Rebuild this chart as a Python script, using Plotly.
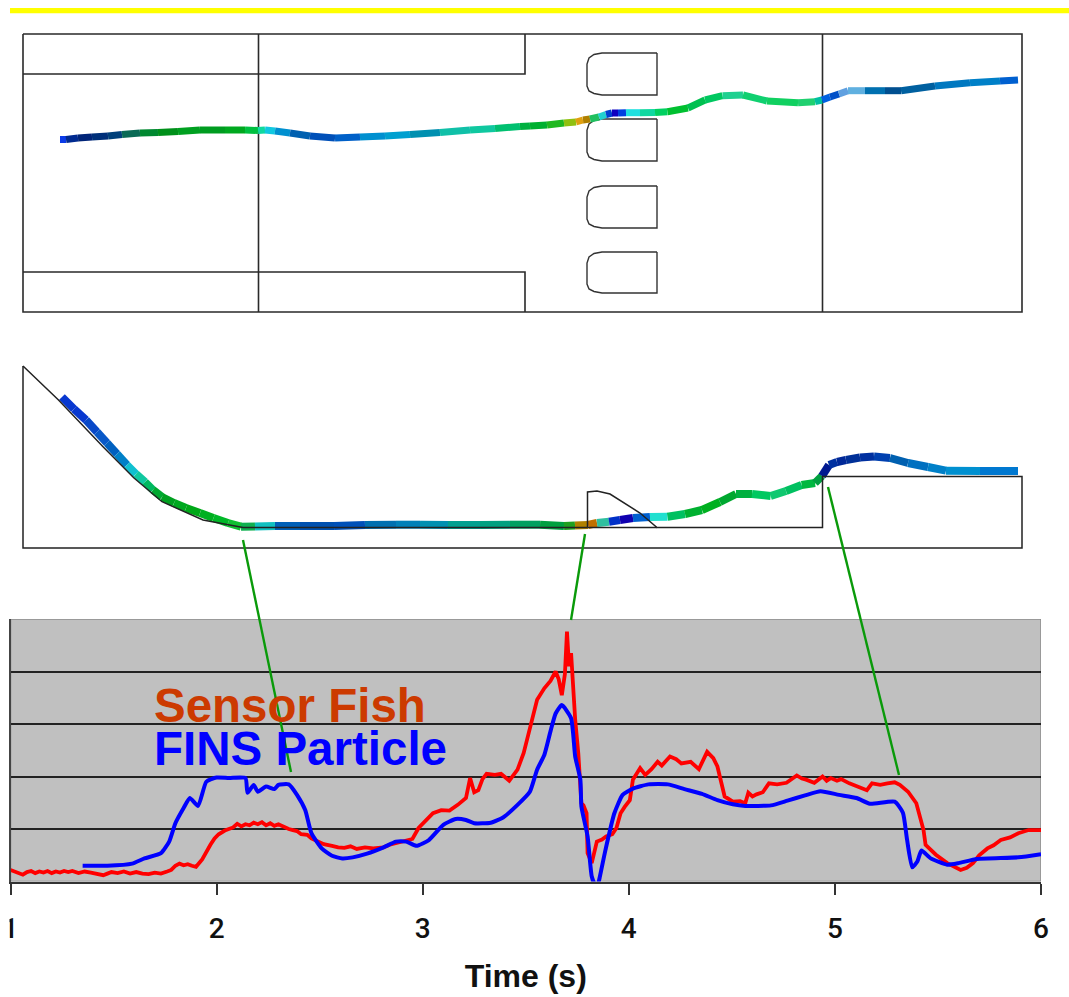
import plotly.graph_objects as go

W, H = 1069, 997

# ---------- time history chart ----------
tick_values = [1, 2, 3, 4, 5, 6]
tick_labels = ["1", "2", "3", "4", "5", "6"]
grid_values = [0, 1, 2, 3, 4, 5]
sensor_t = [1.00,1.02,1.04,1.06,1.08,1.10,1.12,1.14,1.16,1.18,1.20,1.22,1.24,1.26,1.28,1.30,1.33,1.36,1.39,1.42,1.45,1.47,1.49,1.52,1.55,1.58,1.61,1.64,1.67,1.70,1.73,1.76,1.78,1.80,1.82,1.84,1.86,1.88,1.90,
            1.93,1.95,1.97,1.99,2.01,2.04,2.06,2.08,2.10,2.12,2.14,2.16,2.18,2.20,2.22,2.24,2.26,2.28,2.30,2.33,2.35,2.37,2.39,2.41,2.44,2.46,2.49,2.52,2.56,2.59,2.62,2.65,2.68,2.72,2.76,2.81,2.84,2.87,2.91,2.95,
            2.98,3.01,3.05,3.09,3.13,3.17,3.21,3.23,3.25,3.27,3.29,3.31,3.35,3.38,3.42,3.46,3.49,3.51,3.53,3.555,3.59,3.62,3.645,3.66,3.675,3.69,3.70,3.71,3.72,3.74,3.755,3.77,3.78,3.795,
            3.80,3.82,3.845,3.87,3.89,3.92,3.94,3.96,3.98,4.005,4.02,4.04,4.055,4.08,4.11,4.14,4.16,4.20,4.23,4.255,4.28,4.30,4.34,4.36,4.38,4.41,4.43,4.465,4.505,4.54,4.565,4.58,
            4.60,4.62,4.65,4.68,4.72,4.765,4.79,4.815,4.84,4.86,4.90,4.92,4.94,4.96,4.98,5.01,5.03,5.07,5.105,5.13,5.155,5.18,5.22,5.255,5.29,5.315,5.355,5.395,5.43,5.44,5.49,5.545,5.58,5.61,5.64,5.67,5.70,5.74,5.77,5.805,5.85,5.89,5.94,6.00]
sensor_v = [.22,.19,.17,.13,.18,.20,.16,.19,.17,.20,.16,.19,.17,.20,.18,.20,.16,.19,.17,.15,.12,.15,.18,.16,.19,.15,.18,.15,.14,.17,.15,.19,.22,.30,.34,.31,.33,.30,.28,
            .42,.57,.70,.82,.90,.97,1.00,1.03,1.10,1.05,1.09,1.07,1.12,1.09,1.13,1.07,1.11,1.06,1.09,1.03,1.00,.98,.96,.90,.89,.82,.76,.71,.68,.65,.64,.67,.62,.65,.63,.65,.70,.73,.76,.81,
            1.02,1.15,1.30,1.36,1.35,1.46,1.59,1.97,1.70,1.74,1.95,2.05,2.03,2.05,1.92,2.13,2.45,2.76,3.10,3.46,3.68,3.82,4.00,3.85,3.55,3.95,4.76,4.10,4.35,3.08,2.44,1.49,1.45,1.30,
            .54,.35,.76,.80,.86,.90,1.02,1.30,1.42,1.55,1.94,2.05,2.16,2.03,2.14,2.28,2.21,2.38,2.33,2.25,2.27,2.28,2.14,2.30,2.47,2.35,2.19,1.62,1.52,1.53,1.49,1.69,
            1.62,1.66,1.70,1.87,1.85,1.88,1.94,2.02,1.96,1.94,1.88,1.95,2.00,1.92,1.97,1.92,1.95,1.87,1.81,1.77,1.74,1.87,1.84,1.87,1.89,1.84,1.71,1.49,.98,.70,.51,.35,.27,.22,.26,.35,.50,.63,.69,.79,.84,.92,.98,.98]
fins_t = [1.35,1.47,1.59,1.65,1.73,1.77,1.80,1.84,1.87,1.91,1.95,2.00,2.06,2.14,2.15,2.18,2.20,2.24,2.28,2.30,2.35,2.39,2.43,2.46,2.51,2.56,2.61,2.66,2.73,2.81,2.87,2.92,2.97,
          3.03,3.10,3.16,3.21,3.25,3.33,3.39,3.46,3.52,3.555,3.59,3.62,3.645,3.675,3.72,3.74,3.765,3.77,3.80,3.82,3.835,3.85,3.86,3.885,3.93,3.97,4.02,4.095,4.19,4.27,4.355,4.43,4.505,4.565,
          4.69,4.77,4.855,4.93,5.02,5.105,5.17,5.29,5.33,5.35,5.375,5.40,5.42,5.465,5.545,5.60,5.69,5.89,6.00]
fins_v = [.30,.30,.34,.44,.54,.76,1.11,1.40,1.59,1.44,1.90,1.98,1.97,1.97,1.69,1.84,1.71,1.81,1.76,1.84,1.85,1.65,1.36,.92,.63,.49,.44,.46,.53,.65,.76,.76,.68,
          .79,1.08,1.19,1.17,1.11,1.12,1.22,1.46,1.71,2.13,2.41,2.86,3.20,3.36,3.11,2.38,1.94,1.43,.86,.10,-.05,-.05,.10,.57,1.30,1.65,1.77,1.85,1.85,1.76,1.67,1.55,1.47,1.44,
          1.45,1.54,1.64,1.72,1.65,1.59,1.48,1.52,1.31,.80,.27,.38,.59,.44,.32,.35,.43,.46,.52]
sensor_label = "Sensor Fish"
fins_label = "FINS Particle"
x_title = "Time (s)"

# ---------- plan view (drawing units) ----------
plan_walls_x = [23,1022,1022,23,23,None,23,525,525,None,23,525,525,None,258.5,258.5,None,822.5,822.5]
plan_walls_y = [34,34,312,312,34,None,74,74,34,None,272,272,312,None,34,312,None,34,312]
pier_tops = [53, 119, 186, 252]
pier_bottoms = [95, 161, 228, 293]
plan_x = [60,66,78,92,108,122,140,158,178,200,225,245,258,265,275,290,310,335,360,385,410,440,470,495,520,530,547,564,576,583,590,599,606,612,618,626,640,655,667.5,688,705,722.5,743,767,798,815,822,830,839,848,865,885,901,935,970,1000,1018]
plan_y = [139.5,139.5,138,137,136,134.5,133,132.5,131.5,130,130,130,130.5,130,131,133,136,138,137,136,134.5,132.5,130,128.5,126.5,126,125,123,122,120,119,117,114.5,113,113,112.7,112.7,112.5,111.7,108,100,95.7,95,101,102.7,101.7,100,97,94,90.7,90.7,90.7,90.7,86,82.7,81,80]
plan_color = ["#0b3be8","#002a90","#002478","#00307a","#00407a","#0a6a55","#008830","#00901a","#00a020","#009c20","#00a81f","#00c040","#10d8a0","#10c8e0","#0090d0","#0060b0","#0050b8","#0060c8","#0090d0","#00a0d0","#0090b0","#10c0a8","#10c8a0","#00c070","#00b040","#00b030","#20b820","#90c010","#e0a010","#b08000","#20c060","#20d0d0","#0040d0","#1000c0","#0040e0","#20e0e0","#10d8a0","#00d060","#00c030","#00c050","#00c860","#20d090","#10d070","#10d060","#20d070","#00c0a0","#0060e0","#0050c8","#60a0e0","#60b0e0","#0070b0","#004f90","#0060a0","#0078c0","#0080c8","#0060d0","#0050e0"]

# ---------- profile view (drawing units) ----------
profile_walls_x = [23,23,1022,1022,822.5,822.5,657,640,610,597,587.5,587.5,None,587.5,243,203,162,134,103,58.5,23,None,657,587.5]
profile_walls_y = [366,548,548,476.5,476.5,527.5,527.5,513,494,491,492,527.5,None,527.5,527.5,520,501.7,478,446.7,400,366,None,527.5,527.5]
profile_x = [62,74,86,97,107,117,127,136,145,153,162,174,186,200,213.5,228,241,255,275,300,334,365,396,420,448,480,510,540,564,575,588,597,609,620,633,650,667.5,685,702,720,736,752,770.6,786,801.6,815,822,829,837,846,860,874,890,908,928,946,980,1018]
profile_y = [397,409,420,432,443,454,465,474,482,490,497,503,508,513,518,523,526.7,526.5,526,526,526,525,524.7,524.7,525,525,524.7,524.7,526,525.5,525,523,521.7,520,518,517,516.7,514,510,502,494,494,496,491,485,483,476,465,462,460,457.5,456.5,458,463,467,470.7,471,471]
profile_color = ["#0838d0","#0838d0","#0848c8","#0858c8","#0060c0","#0080c8","#10c0d0","#10c8a0","#00b860","#00a830","#00a020","#00a820","#00a818","#00b020","#00b828","#10c030","#10b050","#10c0c0","#0060b8","#0050b0","#0050b8","#0070b0","#0080b8","#0090b0","#00a090","#00a080","#00a060","#00a040","#20a020","#b08000","#c07000","#30c0a0","#0030c8","#1000b0","#0060d0","#20e0d0","#00c060","#00b030","#00b020","#00a830","#00b040","#00c860","#10c870","#00c060","#00b840","#00a040","#001890","#0030a0","#002898","#003098","#0030a0","#0040b0","#0060b0","#0070c0","#0080c8","#0090d0","#0078d0","#0060c8"]

# ---------- connector lines ----------
connector_x = [[243,291],[585,571],[828,899]]
connector_y = [[540,772],[534,620],[487,775]]

fig = go.Figure()
# chart series
fig.add_trace(go.Scatter(x=sensor_t, y=sensor_v, mode="lines", name=sensor_label,
                         line=dict(color="#ff0000", width=3.8), xaxis="x", yaxis="y"))
fig.add_trace(go.Scatter(x=fins_t, y=fins_v, mode="lines", name=fins_label,
                         line=dict(color="#0000ff", width=4, shape="spline", smoothing=0.5), xaxis="x", yaxis="y"))

def pen(xs, ys, color, width):
    fig.add_trace(go.Scatter(x=xs, y=ys, mode="lines", line=dict(color=color, width=width),
                             xaxis="x2", yaxis="y2", hoverinfo="skip", connectgaps=False))

def tube(xs, ys, colors, width):
    for i in range(len(xs) - 1):
        pen(xs[i:i+2], ys[i:i+2], colors[i], width)

def pier(top, bottom):
    xs = [657, 602, 594, 589, 587, 587, 589, 594, 602, 657, 657]
    ys = [top, top, top+1.5, top+5, top+11, bottom-9, bottom-4, bottom-1.5, bottom, bottom, top]
    pen(xs, ys, "#333333", 1.4)

pen(plan_walls_x, plan_walls_y, "#2a2a2a", 1.6)
for a, b in zip(pier_tops, pier_bottoms):
    pier(a, b)
tube(plan_x, plan_y, plan_color, 7)
tube(profile_x, profile_y, profile_color, 8)
pen(profile_walls_x, profile_walls_y, "#222222", 1.5)
for cx, cy in zip(connector_x, connector_y):
    pen(cx, cy, "#0a9a0a", 2.4)

fig.update_layout(
    width=W, height=H, margin=dict(l=0, r=0, t=0, b=0), showlegend=False,
    paper_bgcolor="white", plot_bgcolor="rgba(0,0,0,0)",
    font=dict(family="Liberation Sans", color="#111111"),
    xaxis=dict(domain=[10.5/W, 1041/W], range=[1, 6], tickmode="array", tickvals=tick_values, ticktext=tick_labels,
               ticks="outside", ticklen=11, tickwidth=1.5, tickcolor="#333333", ticklabelstandoff=10,
               tickfont=dict(size=28, family="Roboto", weight=500, color="#111111"), automargin=False,
               showline=True, linecolor="#333333", linewidth=2, showgrid=False, zeroline=False, anchor="y",
               title=dict(text="<b>%s</b>" % x_title, font=dict(size=32, family="Liberation Sans", color="#111111"), standoff=21)),
    yaxis=dict(domain=[(H-881.5)/H, (H-619)/H], range=[0, 5], tickmode="array", tickvals=grid_values, showticklabels=False,
               ticks="", showline=True, linecolor="#444444", linewidth=1.5, showgrid=True, gridcolor="#222222", gridwidth=2.4,
               zeroline=False, anchor="x", automargin=False),
    xaxis2=dict(domain=[0, 1], range=[0, W], visible=False, anchor="y2", fixedrange=True, automargin=False),
    yaxis2=dict(domain=[0, 1], range=[H, 0], visible=False, anchor="x2", fixedrange=True, automargin=False),
    shapes=[
        dict(type="rect", xref="x", yref="y", x0=1, x1=6, y0=0, y1=5, layer="below",
             fillcolor="#c0c0c0", line=dict(color="#8c8c8c", width=1.5)),
        dict(type="rect", xref="x2", yref="y2", x0=10, x1=W, y0=8, y1=13.3, layer="below",
             fillcolor="#ffff00", line=dict(width=0)),
        dict(type="rect", xref="x2", yref="y2", x0=0, x1=9.5, y0=910, y1=945, layer="above",
             fillcolor="white", line=dict(width=0)),
    ],
    annotations=[
        dict(text="<b>%s</b>" % sensor_label, xref="x2", yref="y2", x=152, y=705, xanchor="left", yanchor="middle",
             showarrow=False, font=dict(size=47.5, color="#cc3a00", family="Liberation Sans")),
        dict(text="<b>%s</b>" % fins_label, xref="x2", yref="y2", x=152, y=748, xanchor="left", yanchor="middle",
             showarrow=False, font=dict(size=47.5, color="#0000ff", family="Liberation Sans")),
    ],
)
fig.write_html("out.html", config={"displayModeBar": False},
               post_script="document.body.style.margin='0';document.documentElement.style.overflow='hidden';")
